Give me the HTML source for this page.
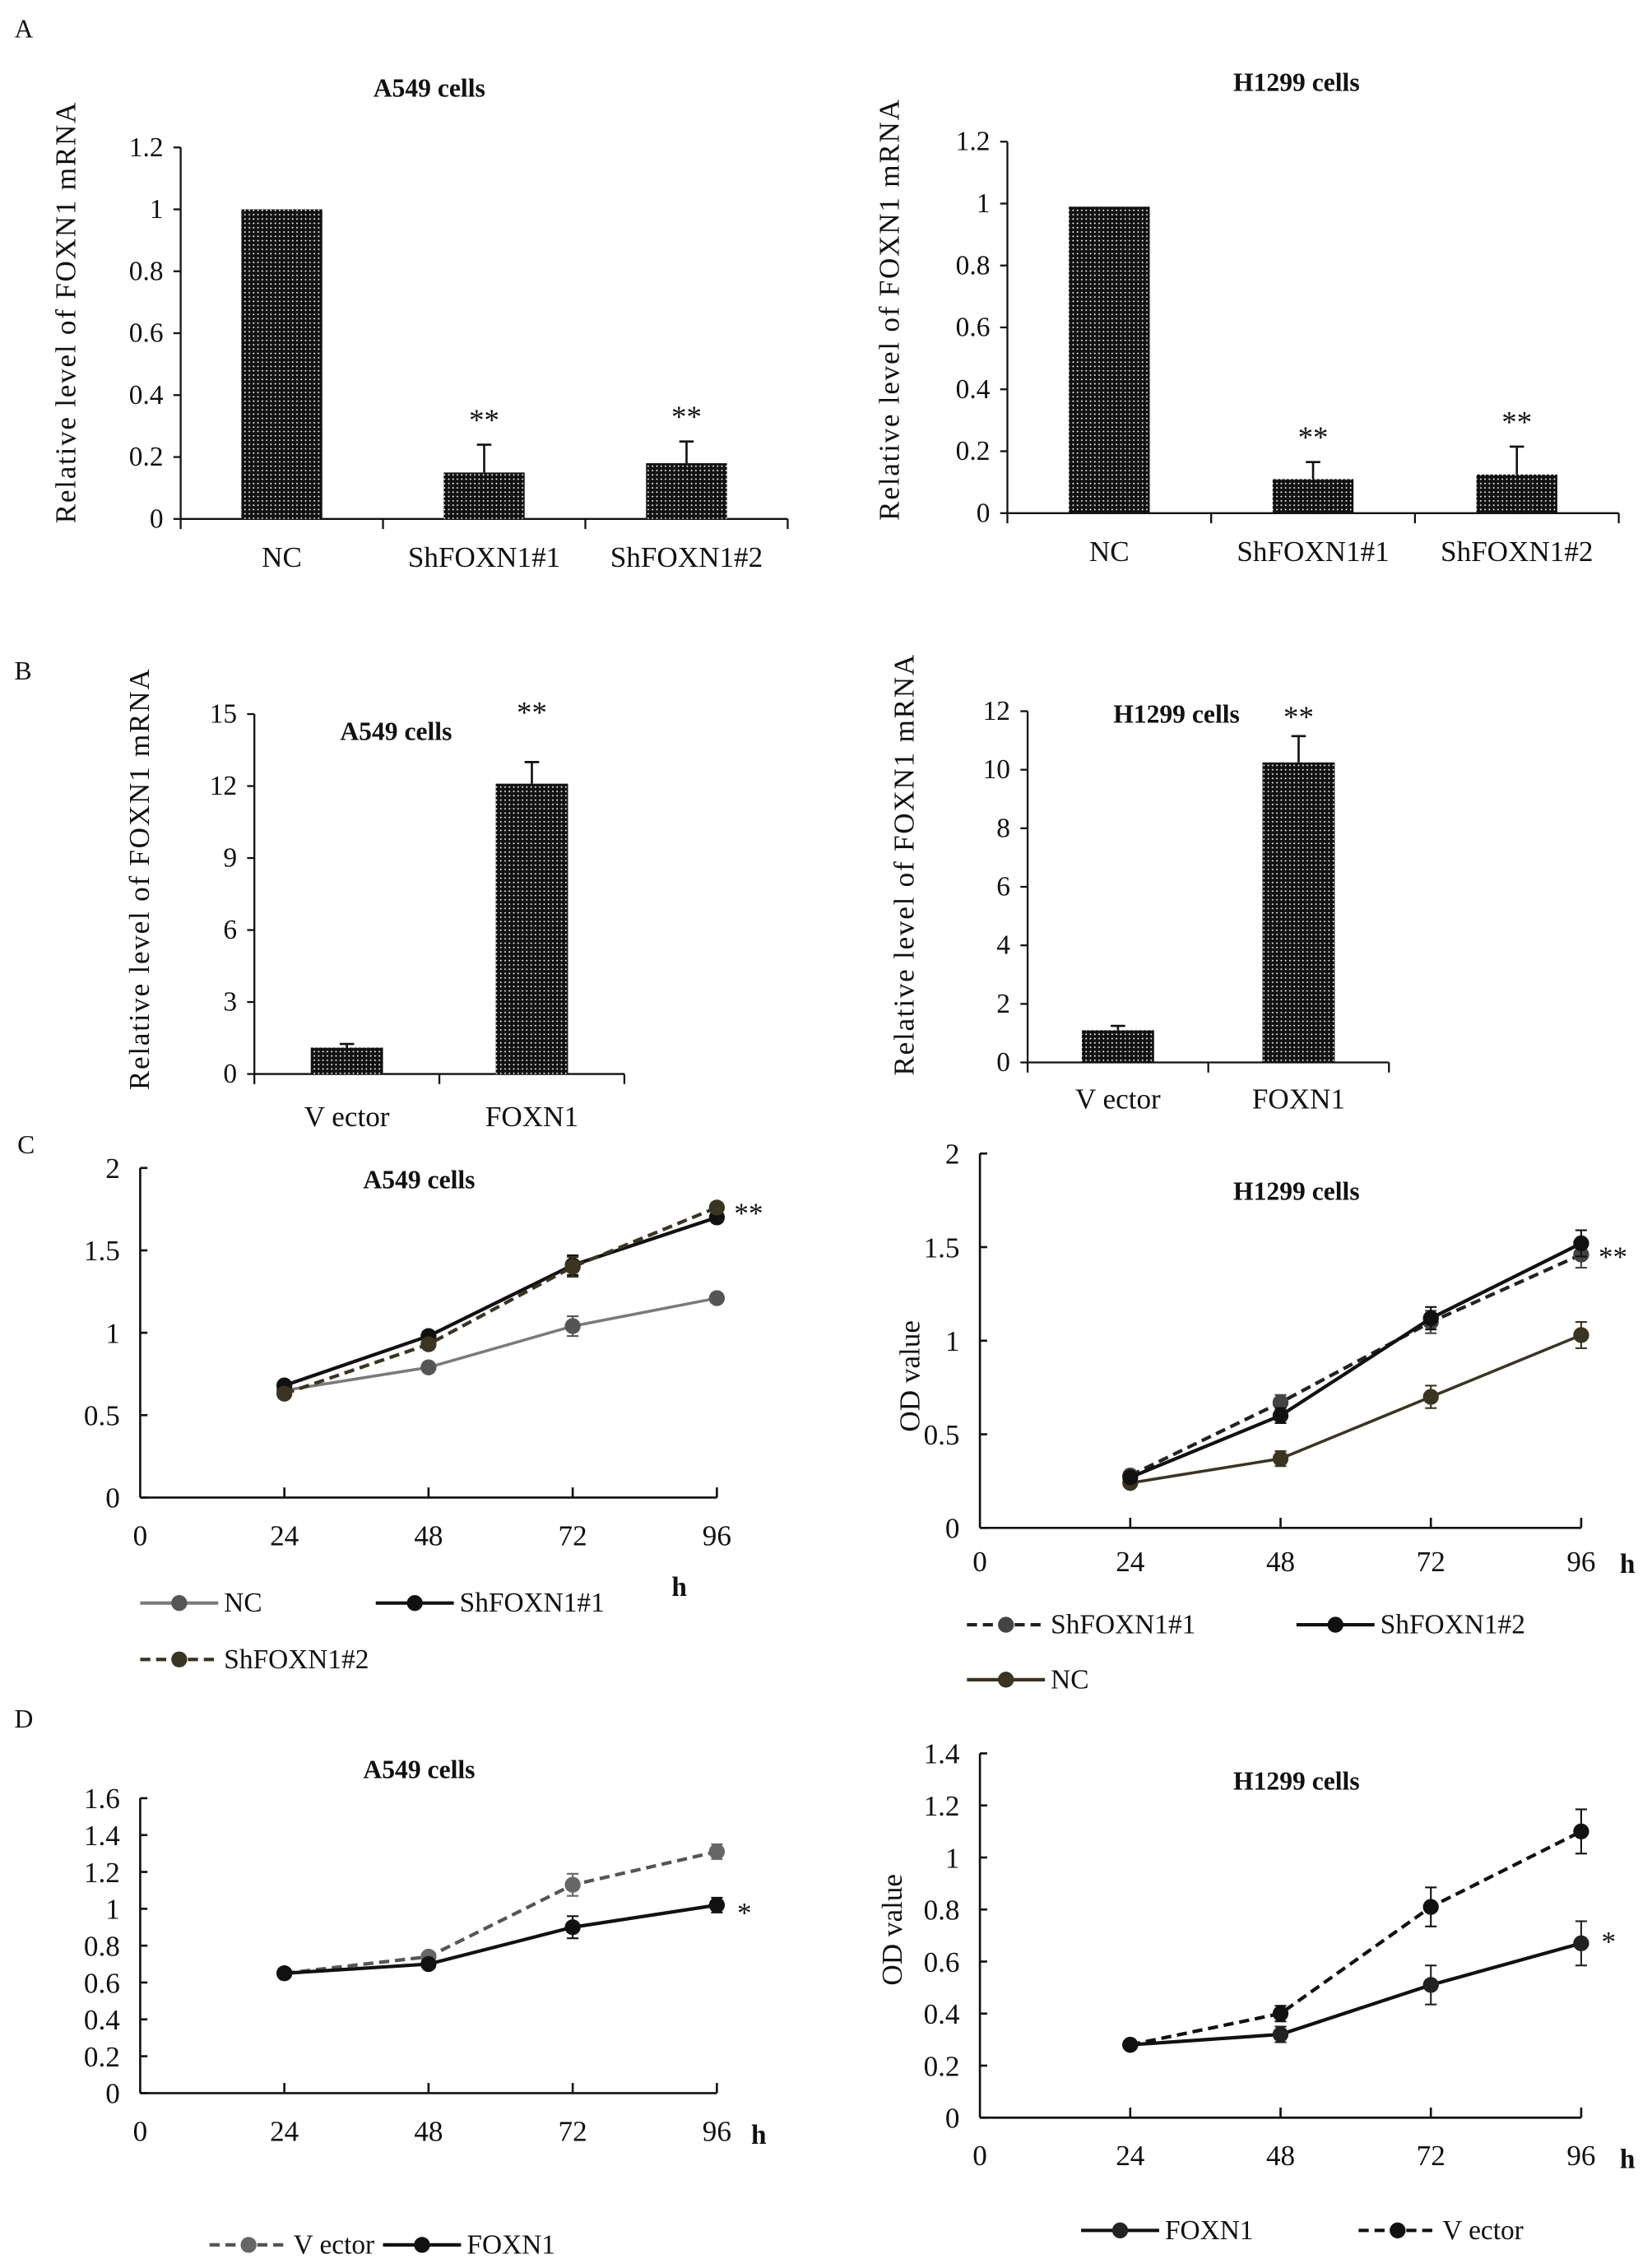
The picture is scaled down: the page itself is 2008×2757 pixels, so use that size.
<!DOCTYPE html>
<html><head><meta charset="utf-8"><style>
html,body{margin:0;padding:0;background:#fff}
svg{display:block}
text{font-family:"Liberation Serif",serif;fill:#111}
</style></head><body>
<svg id="fig" width="2008" height="2757" viewBox="0 0 1143 1569" preserveAspectRatio="none" xmlns="http://www.w3.org/2000/svg">
<defs>
<pattern id="dots" width="3" height="3" patternUnits="userSpaceOnUse"><rect width="3" height="3" fill="#111"/><circle cx="1.5" cy="1.5" r="0.55" fill="#fff"/></pattern>
</defs>
<text x="10" y="26" font-size="18">A</text>
<text x="10" y="470" font-size="18">B</text>
<text x="12" y="798" font-size="18">C</text>
<text x="10" y="1195" font-size="18">D</text>
</svg>
<script>
// ---- Panel A data ----
const aCats=["NC","ShFOXN1#1","ShFOXN1#2"];
const aLeftVals=[1.0,0.15,0.18];
const aLeftErrs=[0,0.09,0.07];
const aRightVals=[0.99,0.11,0.125];
const aRightErrs=[0,0.055,0.09];
const aTicks=["0","0.2","0.4","0.6","0.8","1","1.2"];
const aTickVals=[0,0.2,0.4,0.6,0.8,1,1.2];
// ---- Panel B data ----
const bCats=["V ector","FOXN1"];
const bLeftVals=[1.1,12.1];
const bLeftErrs=[0.15,0.9];
const bLeftTicks=[0,3,6,9,12,15];
const bRightVals=[1.1,10.25];
const bRightErrs=[0.15,0.9];
const bRightTicks=[0,2,4,6,8,10,12];
// ---- Panel C/D data ----
const hours=[24,48,72,96];
const xTicks=[0,24,48,72,96];
const cLeftNC=[0.65,0.79,1.04,1.21];
const cLeftSh1=[0.68,0.98,1.41,1.70];
const cLeftSh2=[0.63,0.93,1.40,1.76];
const cLeftErr=[0.02,0.03,0.06,0.03];
const cRightSh1=[0.28,0.67,1.10,1.46];
const cRightSh2=[0.27,0.60,1.12,1.52];
const cRightNC=[0.24,0.37,0.70,1.03];
const cRightErr=[0.02,0.04,0.06,0.07];
const cTicks=[0,0.5,1,1.5,2];
const dLeftVector=[0.65,0.74,1.13,1.31];
const dLeftFOXN1=[0.65,0.70,0.90,1.02];
const dLeftErr=[0.02,0.02,0.06,0.04];
const dLeftTicks=[0,0.2,0.4,0.6,0.8,1,1.2,1.4,1.6];
const dRightVector=[0.28,0.40,0.81,1.10];
const dRightFOXN1=[0.28,0.32,0.51,0.67];
const dRightErr=[0.01,0.03,0.075,0.085];
const dRightTicks=[0,0.2,0.4,0.6,0.8,1,1.2,1.4];

const svg=document.getElementById('fig');
const NS='http://www.w3.org/2000/svg';
function mk(tag,parent){const e=document.createElementNS(NS,tag);parent.appendChild(e);return e;}
function line(p,x1,y1,x2,y2,w,c,dash){const l=mk('line',p);l.setAttribute('x1',x1);l.setAttribute('y1',y1);l.setAttribute('x2',x2);l.setAttribute('y2',y2);l.setAttribute('stroke',c||'#111');l.setAttribute('stroke-width',w||1.3);if(dash)l.setAttribute('stroke-dasharray',dash);return l;}
function txt(p,x,y,s,size,anchor,bold){const t=mk('text',p);t.setAttribute('x',x);t.setAttribute('y',y);t.setAttribute('font-size',size||17);t.setAttribute('text-anchor',anchor||'middle');if(bold)t.setAttribute('font-weight','bold');t.textContent=s;return t;}

function barChart(name,c,cats,vals,errs,ticks,tickLabels){
  const g=mk('g',svg);
  
  
  const ys=v=>c.y0-v/c.yMax*(c.y0-c.yTop);
  const cw=(c.xEnd-c.ax)/cats.length;
  const ya=line(g,c.ax,c.yTop,c.ax,c.y0);
  
  
  const xa=line(g,c.ax,c.y0,c.xEnd,c.y0);
  
  
  ticks.forEach((v,i)=>{line(g,c.ax-5,ys(v),c.ax,ys(v));
    const t=txt(g,c.ax-12,ys(v)+6,tickLabels?tickLabels[i]:String(v),19,'end');
    
    });
  for(let i=0;i<=cats.length;i++)line(g,c.ax+i*cw,c.y0,c.ax+i*cw,c.y0+7);
  cats.forEach((cat,i)=>{
    const cx=c.ax+(i+0.5)*cw;
    const r=mk('rect',g);
    r.setAttribute('x',cx-c.bw/2);r.setAttribute('y',ys(vals[i]));r.setAttribute('width',c.bw);r.setAttribute('height',c.y0-ys(vals[i]));r.setAttribute('fill','url(#dots)');
    
    
    if(errs[i]>0){line(g,cx,ys(vals[i]),cx,ys(vals[i]+errs[i]),1.5);line(g,cx-5,ys(vals[i]+errs[i]),cx+5,ys(vals[i]+errs[i]),1.5);}
    const lt=txt(g,cx,c.y0+c.xlOff,cat,20);
    
    
    if(c.stars&&c.stars[i]){const s=txt(g,cx,c.starY?c.starY:ys(vals[i]+errs[i])-10,c.stars[i],21);
      
      }
  });
  const tt=txt(g,c.tx,c.ty,c.title,18,'middle',true);
  
  
  const yl=txt(g,0,0,'Relative  level of FOXN1  mRNA',20);
  yl.setAttribute('letter-spacing','1');
  yl.setAttribute('transform','translate('+c.lx+','+c.ly+') rotate(-90)');
  
  
}

barChart('bar-chart-a-a549',{ax:125,xEnd:545,y0:359,yTop:102,yMax:1.2,bw:56,xlOff:33,tx:297,ty:67,title:'A549 cells',lx:52,ly:216,stars:['','**','**']},aCats,aLeftVals,aLeftErrs,aTickVals,aTicks);
barChart('bar-chart-a-h1299',{ax:697,xEnd:1120,y0:355,yTop:98,yMax:1.2,bw:56,xlOff:33,tx:897,ty:63,title:'H1299 cells',lx:622,ly:214,stars:['','**','**']},aCats,aRightVals,aRightErrs,aTickVals,aTicks);
barChart('bar-chart-b-a549',{ax:176,xEnd:432,y0:743,yTop:494,yMax:15,bw:50,xlOff:36,tx:274,ty:512,title:'A549 cells',lx:103,ly:608,stars:['','**'],starY:500},bCats,bLeftVals,bLeftErrs,bLeftTicks);
barChart('bar-chart-b-h1299',{ax:711,xEnd:961,y0:735,yTop:492,yMax:12,bw:50,xlOff:32,tx:814,ty:500,title:'H1299 cells',lx:632,ly:598,stars:['','**'],starY:503},bCats,bRightVals,bRightErrs,bRightTicks);

function lineChart(name,c,series,errs,ticks){
  const g=mk('g',svg);
  
  
  const xs=h=>c.ax+h/96*(c.x96-c.ax);
  const ys=v=>c.y0-v/c.yMax*(c.y0-c.yTop);
  const ya=line(g,c.ax,c.yTop,c.ax,c.y0,1.5);
  
  
  const xa=line(g,c.ax,c.y0,c.x96,c.y0,1.5);
  
  
  ticks.forEach(v=>{line(g,c.ax,ys(v),c.ax+5,ys(v),1.5);
    const t=txt(g,c.ax-14,ys(v)+7,String(v),20,'end');
    
    });
  xTicks.forEach(h=>{if(h>0)line(g,xs(h),c.y0-7,xs(h),c.y0,1.5);
    const t=txt(g,xs(h),c.y0+c.xlOff,String(h),20);
    
    });
  const hh=txt(g,c.hx,c.hy,'h',19,'middle',true);
  
  
  series.forEach((s,si)=>{
    const sg=mk('g',g);
    
    
    const pl=mk('polyline',sg);
    pl.setAttribute('points',hours.map((h,i)=>xs(h)+','+ys(s.vals[i])).join(' '));
    pl.setAttribute('fill','none');pl.setAttribute('stroke',s.color);pl.setAttribute('stroke-width',s.w||2.4);
    if(s.dash)pl.setAttribute('stroke-dasharray',s.dash);
    hours.forEach((h,i)=>{
      const e=errs[i];
      line(sg,xs(h),ys(s.vals[i]-e),xs(h),ys(s.vals[i]+e),1.2,s.mcolor);
      line(sg,xs(h)-4,ys(s.vals[i]+e),xs(h)+4,ys(s.vals[i]+e),1.2,s.mcolor);
      line(sg,xs(h)-4,ys(s.vals[i]-e),xs(h)+4,ys(s.vals[i]-e),1.2,s.mcolor);
      const m=mk('circle',sg);
      m.setAttribute('cx',xs(h));m.setAttribute('cy',ys(s.vals[i]));m.setAttribute('r',5.5);m.setAttribute('fill',s.mcolor);
      
      
    });
    const lg=mk('g',g);
    
    
    line(lg,s.lx,s.ly,s.lx+54,s.ly,2.4,s.color,s.dash);
    const lc=mk('circle',lg);lc.setAttribute('cx',s.lx+27);lc.setAttribute('cy',s.ly);lc.setAttribute('r',5.5);lc.setAttribute('fill',s.mcolor);
    txt(lg,s.lx+58,s.ly+6,s.label,19,'start');
  });
  const tt=txt(g,c.tx,c.ty,c.title,18,'middle',true);
  
  
  const st=txt(g,c.sx,c.sy,c.star,20,'start');
  
  
  if(c.ylab){const yl=txt(g,0,0,'OD      value',20);
    yl.setAttribute('transform','translate('+c.lx+','+c.ly+') rotate(-90)');
    
    }
}

lineChart('line-chart-c-a549',{ax:97,x96:496,y0:1036,yTop:808,yMax:2,xlOff:33,hx:470,hy:1104,tx:290,ty:822,title:'A549 cells',sx:508,sy:846,star:'**'},[
  {id:'nc',label:'NC',vals:cLeftNC,color:'#7a7a7a',mcolor:'#555',w:2,lx:97,ly:1109},
  {id:'shfoxn1-1',label:'ShFOXN1#1',vals:cLeftSh1,color:'#111',mcolor:'#111',lx:260,ly:1109},
  {id:'shfoxn1-2',label:'ShFOXN1#2',vals:cLeftSh2,color:'#3a3520',mcolor:'#3a3520',dash:'7,4',lx:97,ly:1148}
],cLeftErr,cTicks);

lineChart('line-chart-c-h1299',{ax:678,x96:1094,y0:1057,yTop:798,yMax:2,xlOff:30,hx:1126,hy:1088,tx:897,ty:830,title:'H1299 cells',sx:1106,sy:876,star:'**',ylab:true,lx:636,ly:952},[
  {id:'nc',label:'NC',vals:cRightNC,color:'#3a3520',mcolor:'#3a3520',w:2,lx:669,ly:1162},
  {id:'shfoxn1-1',label:'ShFOXN1#1',vals:cRightSh1,color:'#222',mcolor:'#444',dash:'7,4',lx:669,ly:1124},
  {id:'shfoxn1-2',label:'ShFOXN1#2',vals:cRightSh2,color:'#111',mcolor:'#111',lx:897,ly:1124}
],cRightErr,cTicks);

lineChart('line-chart-d-a549',{ax:97,x96:496,y0:1448,yTop:1244,yMax:1.6,xlOff:33,hx:525,hy:1483,tx:290,ty:1230,title:'A549 cells',sx:510,sy:1330,star:'*'},[
  {id:'vector',label:'V ector',vals:dLeftVector,color:'#555',mcolor:'#666',dash:'7,4',lx:145,ly:1553},
  {id:'foxn1',label:'FOXN1',vals:dLeftFOXN1,color:'#111',mcolor:'#111',lx:265,ly:1553}
],dLeftErr,dLeftTicks);

lineChart('line-chart-d-h1299',{ax:678,x96:1094,y0:1465,yTop:1213,yMax:1.4,xlOff:33,hx:1126,hy:1500,tx:897,ty:1238,title:'H1299 cells',sx:1108,sy:1350,star:'*',ylab:true,lx:624,ly:1335},[
  {id:'foxn1',label:'FOXN1',vals:dRightFOXN1,color:'#111',mcolor:'#222',lx:748,ly:1543},
  {id:'vector',label:'V ector',vals:dRightVector,color:'#111',mcolor:'#111',dash:'7,4',lx:940,ly:1543}
],dRightErr,dRightTicks);
</script>
</body></html>
